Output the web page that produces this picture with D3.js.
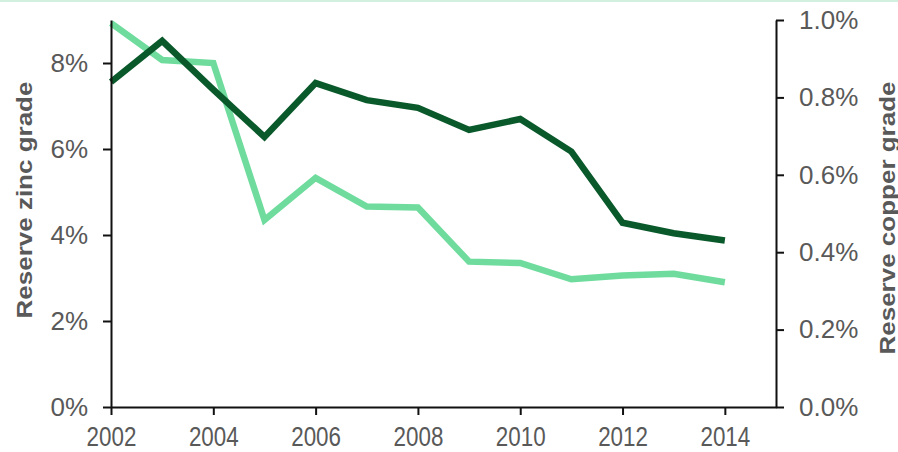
<!DOCTYPE html>
<html>
<head>
<meta charset="utf-8">
<script src="https://cdn.jsdelivr.net/npm/d3@7"></script>
<style>
  html, body { margin: 0; padding: 0; background: #fff; }
  svg { display: block; }
  .axis path, .axis line { stroke: #111; stroke-width: 2; }
  .axis text { fill: #595959; font-family: "Liberation Sans", Arial, sans-serif; }
  .title { fill: #595959; font-family: "Liberation Sans", Arial, sans-serif; font-weight: bold; }
</style>
</head>
<body>
<script>
const years = [2002, 2003, 2004, 2005, 2006, 2007, 2008, 2009, 2010, 2011, 2012, 2013, 2014]
const zincGrade = [8.93, 8.07, 8.0, 4.35, 5.33, 4.66, 4.64, 3.38, 3.35, 2.97, 3.06, 3.1, 2.9]
const copperGrade = [0.84, 0.946, 0.82, 0.698, 0.837, 0.793, 0.773, 0.716, 0.744, 0.66, 0.476, 0.449, 0.43]
const xTicks = [2002, 2004, 2006, 2008, 2010, 2012, 2014]
const leftTicks = [0, 2, 4, 6, 8]
const rightTicks = [0, 0.2, 0.4, 0.6, 0.8, 1.0]

const width = 898, height = 452
const ivp = {x: 111, w: 776, y: 20, h: 407}

const svg = d3.select("body")
    .append("svg")
    .attr("width", width)
    .attr("height", height)

// thin mint band along the top edge
svg.append("rect")
    .attr("x", 0).attr("y", 0)
    .attr("width", width).attr("height", 2)
    .attr("fill", "#d3efe0")

const xScale = d3.scaleLinear().domain([2002, 2015]).range([ivp.x, ivp.w])
const yLeft = d3.scaleLinear().domain([0, 9]).range([ivp.h, ivp.y])
const yRight = d3.scaleLinear().domain([0, 1]).range([ivp.h, ivp.y])

// series
const zincLine = d3.line()
    .x((d, i) => xScale(years[i]))
    .y(d => yLeft(d))
const copperLine = d3.line()
    .x((d, i) => xScale(years[i]))
    .y(d => yRight(d))

svg.append("path")
    .datum(zincGrade)
    .attr("d", zincLine)
    .attr("fill", "none")
    .attr("stroke", "#6fdc9e")
    .attr("stroke-width", 6.5)
    .attr("stroke-linejoin", "miter")

svg.append("path")
    .datum(copperGrade)
    .attr("d", copperLine)
    .attr("fill", "none")
    .attr("stroke", "#0a592b")
    .attr("stroke-width", 6.5)
    .attr("stroke-linejoin", "miter")

// axes
const gx = svg.append("g")
    .attr("class", "axis")
    .attr("transform", `translate(0,${ivp.h})`)
    .call(d3.axisBottom(xScale).tickValues(xTicks).tickFormat(d3.format("d"))
        .tickSize(8).tickSizeOuter(0).tickPadding(11))
gx.selectAll("text")
    .style("font-size", "28px")
    .attr("dy", "0.71em")
    .attr("transform", "scale(0.8,1)")

const gl = svg.append("g")
    .attr("class", "axis")
    .attr("transform", `translate(${ivp.x},0)`)
    .call(d3.axisLeft(yLeft).tickValues(leftTicks).tickFormat(d => d + "%")
        .tickSize(8).tickSizeOuter(0).tickPadding(15))
gl.selectAll("text").style("font-size", "26px")

const gr = svg.append("g")
    .attr("class", "axis")
    .attr("transform", `translate(${ivp.w},0)`)
    .call(d3.axisRight(yRight).tickValues(rightTicks).tickFormat(d => d3.format(".1f")(d) + "%")
        .tickSize(8).tickSizeOuter(0).tickPadding(15))
gr.selectAll("text").style("font-size", "26px")

// axis titles
svg.append("text")
    .attr("class", "title")
    .attr("transform", "translate(32,200) scale(0.82,1) rotate(-90)")
    .attr("text-anchor", "middle")
    .style("font-size", "26px")
    .text("Reserve zinc grade")

svg.append("text")
    .attr("class", "title")
    .attr("transform", "translate(895,218) scale(0.82,1) rotate(-90)")
    .attr("text-anchor", "middle")
    .style("font-size", "26px")
    .text("Reserve copper grade")
</script>
</body>
</html>
